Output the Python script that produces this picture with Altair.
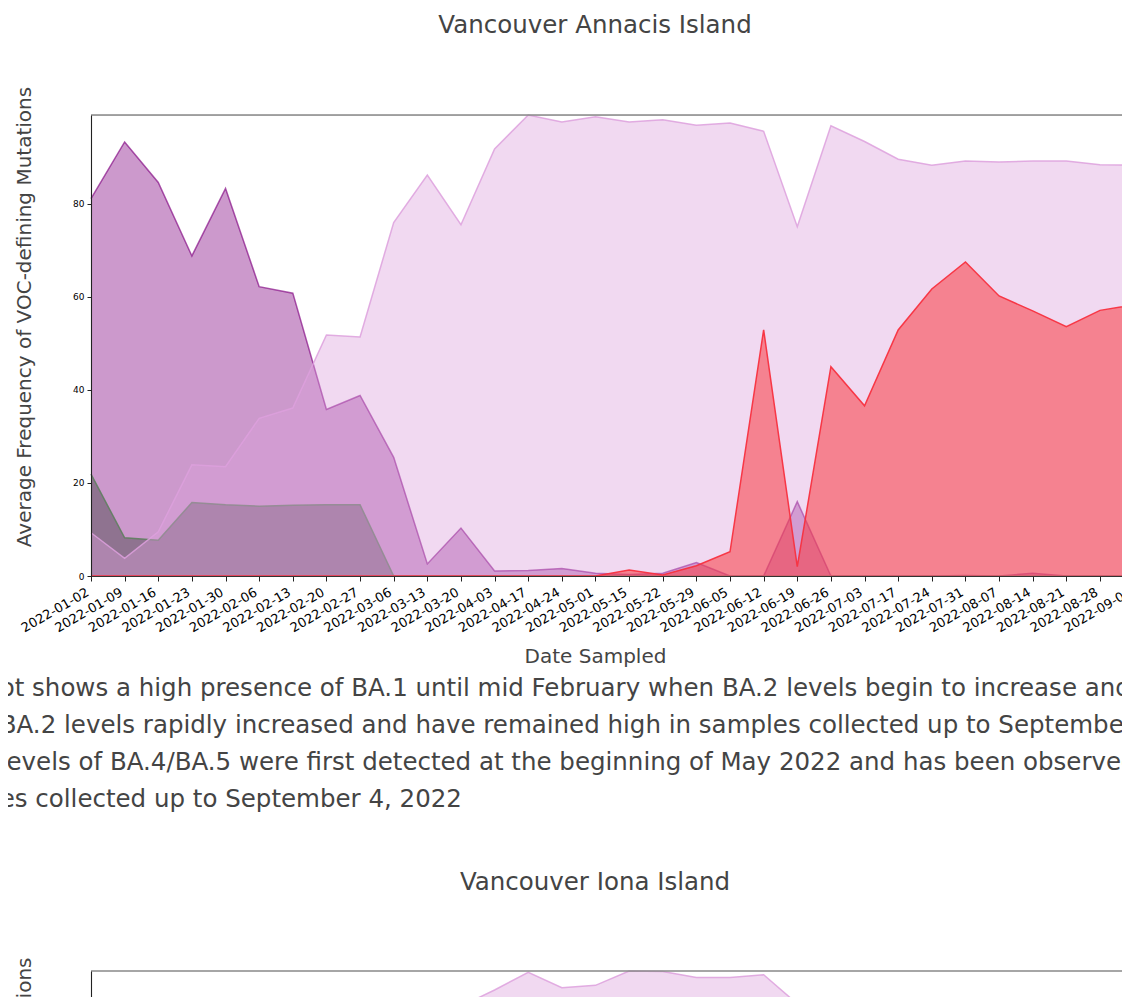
import altair as alt
import pandas as pd

# ---------------- data ----------------
dates = ["2022-01-02", "2022-01-09", "2022-01-16", "2022-01-23", "2022-01-30",
         "2022-02-06", "2022-02-13", "2022-02-20", "2022-02-27", "2022-03-06",
         "2022-03-13", "2022-03-20", "2022-04-03", "2022-04-17", "2022-04-24",
         "2022-05-01", "2022-05-15", "2022-05-22", "2022-05-29", "2022-06-05",
         "2022-06-12", "2022-06-19", "2022-06-26", "2022-07-03", "2022-07-17",
         "2022-07-24", "2022-07-31", "2022-08-07", "2022-08-14", "2022-08-21",
         "2022-08-28", "2022-09-04"]

ba1 = [81.1, 93.3, 84.6, 68.8, 83.3, 62.2, 60.8, 35.8, 38.8, 25.5,
       2.6, 10.3, 1.1, 1.2, 1.6, 0.6, 0.3, 0.6, 2.9, 0.0,
       0.0, 16.0, 0.0, 0.0, 0.0, 0.0, 0.1, 0.0, 0.6, 0.0,
       0.0, 0.0]
ba11 = [21.9, 8.2, 7.7, 15.8, 15.3, 15.0, 15.2, 15.3, 15.3, 0.0,
        0.0, 0.0, 0.0, 0.0, 0.0, 0.0, 0.0, 0.0, 0.0, 0.0,
        0.0, 0.0, 0.0, 0.0, 0.0, 0.0, 0.0, 0.0, 0.0, 0.0,
        0.0, 0.0]
ba2 = [9.3, 3.8, 9.5, 23.9, 23.5, 33.9, 36.1, 51.8, 51.4, 76.0,
       86.2, 75.5, 91.8, 99.1, 97.6, 98.7, 97.6, 98.1, 96.9, 97.4,
       95.6, 75.1, 96.8, 93.4, 89.6, 88.3, 89.2, 89.0, 89.2, 89.2,
       88.4, 88.3]
ba45 = [0.0, 0.0, 0.0, 0.0, 0.0, 0.0, 0.0, 0.0, 0.0, 0.0,
        0.0, 0.0, 0.0, 0.0, 0.0, 0.0, 1.3, 0.2, 2.2, 5.2,
        52.9, 2.0, 45.0, 36.6, 52.9, 61.7, 67.5, 60.2, 57.0, 53.6,
        57.1, 58.3]

# second site (only its top edge is visible)
iona_dates = ["2022-03-20", "2022-04-03", "2022-04-17", "2022-04-24", "2022-05-01",
              "2022-05-15", "2022-05-22", "2022-05-29", "2022-06-05", "2022-06-12",
              "2022-06-19"]
iona_ba2 = [92.0, 95.5, 99.3, 96.0, 96.5, 99.6, 99.5, 98.2, 98.2, 98.8, 92.5]

titles = ["Vancouver Annacis Island", "Vancouver Iona Island"]
x_title = "Date Sampled"
y_title = "Average Frequency of VOC-defining Mutations"
paragraph_lines = [
    "ot shows a high presence of BA.1 until mid February when BA.2 levels begin to increase and",
    "BA.2 levels rapidly increased and have remained high in samples collected up to September",
    "levels of BA.4/BA.5 were first detected at the beginning of May 2022 and has been observed",
    "es collected up to September 4, 2022",
]
y_ticks = [0, 20, 40, 60, 80]

FONT = "DejaVu Sans"
Y1_MAX = max(ba2)
Y2_MAX = max(iona_ba2)

# ---------------- layout ----------------
PAD_L, PAD_T = 83, 107
PLOT_H = 461
TOTAL_W, TOTAL_H = 1114, 989
VIEW_W = TOTAL_W - PAD_L
PAD_B = TOTAL_H - PAD_T - PLOT_H
X_SPAN = 1042.6
CH2_TOP = 856

X_SCALE = alt.Scale(type="point", domain=dates, range=[0, X_SPAN], padding=0)
Y1 = alt.Scale(domain=[0, Y1_MAX], nice=False, zero=True)
Y2 = alt.Scale(domain=[0, Y2_MAX], range=[CH2_TOP + PLOT_H, CH2_TOP], nice=False, zero=True)

long1 = pd.DataFrame({
    "date": dates * 4,
    "series": ["BA.1"] * len(dates) + ["BA.1.1"] * len(dates) + ["BA.2"] * len(dates) + ["BA.4/BA.5"] * len(dates),
    "value": ba1 + ba11 + ba2 + ba45,
})
iona_df = pd.DataFrame({"date": iona_dates, "value": iona_ba2})

x_axis = alt.Axis(
    title=x_title, labelAngle=330, labelAlign="right", labelBaseline="bottom",
    labelPadding=16, labelFontSize=13, labelColor="black", labelFont=FONT,
    labelOverlap=False, tickSize=5, tickColor="#222", tickWidth=1,
    domainColor="#333", domainWidth=1.1, grid=False, zindex=1, orient="bottom",
    titleFont=FONT, titleFontSize=20, titleColor="#444", titleFontWeight="normal",
    titleX=504, titleY=86, titleAlign="center", titleBaseline="alphabetic",
)

y_axis1 = alt.Axis(
    title=y_title, values=y_ticks, labelFontSize=9, labelColor="black", labelFont=FONT,
    labelPadding=3, tickSize=4, tickColor="#222", domainColor="#222", domainWidth=1.1,
    grid=False, zindex=1, orient="left",
    titleFont=FONT, titleFontSize=20, titleColor="#444", titleFontWeight="normal",
    titleAngle=270, titleAlign="center", titleBaseline="alphabetic",
    titleX=-61, titleY=201.5, titleLimit=2000,
)
y_axis2 = alt.Axis(
    title=y_title, values=y_ticks, labelFontSize=9, labelColor="black", labelFont=FONT,
    labelPadding=3, tickSize=4, tickColor="#222", domainColor="#222", domainWidth=1.1,
    grid=False, zindex=1, orient="left",
    titleFont=FONT, titleFontSize=20, titleColor="#444", titleFontWeight="normal",
    titleAngle=270, titleAlign="right", titleBaseline="alphabetic",
    titleX=-61, titleY=842, titleLimit=2000,
)

styles = [
    # series, fill, fill opacity, line colour, line opacity
    ("BA.1", "#800080", 0.4, "#800080", 0.65),
    ("BA.1.1", "#343a36", 0.4, "#5f805f", 0.9),
    ("BA.2", "#dda0dd", 0.4, "#dda0dd", 0.85),
    ("BA.4/BA.5", "#f83b3f", 0.55, "#f8303f", 0.95),
]

X_ENC = alt.X("date:O", scale=X_SCALE, axis=x_axis)

layers1 = []
for name, fill, fop, lcol, lop in styles:
    base = alt.Chart(long1).transform_filter(alt.datum.series == name)
    area = base.mark_area(color=fill, fillOpacity=fop, strokeWidth=0).encode(
        x=X_ENC,
        y=alt.Y("value:Q", scale=Y1, axis=y_axis1, stack=None),
    )
    line = base.mark_line(color=lcol, opacity=lop, strokeWidth=1.5).encode(
        x=X_ENC,
        y=alt.Y("value:Q", scale=Y1, axis=y_axis1, stack=None),
    )
    layers1 += [area, line]

spine1 = alt.Chart(pd.DataFrame({"date": [dates[0]], "end": [dates[-1]], "value": [Y1_MAX]})).mark_rule(
    color="#888", strokeWidth=1.3).encode(
    x=X_ENC, x2="end",
    y=alt.Y("value:Q", scale=Y1, axis=y_axis1),
)
chart1 = alt.layer(*layers1, spine1)

area2 = alt.Chart(iona_df).mark_area(color="#dda0dd", fillOpacity=0.4, strokeWidth=0).encode(
    x=X_ENC,
    y=alt.Y("value:Q", scale=Y2, axis=y_axis2, stack=None),
)
line2 = alt.Chart(iona_df).mark_line(color="#dda0dd", opacity=0.85, strokeWidth=1.5).encode(
    x=X_ENC,
    y=alt.Y("value:Q", scale=Y2, axis=y_axis2, stack=None),
)
spine2 = alt.Chart(pd.DataFrame({"date": [dates[0]], "end": [dates[-1]], "value": [Y2_MAX]})).mark_rule(
    color="#888", strokeWidth=1.3).encode(
    x=X_ENC, x2="end",
    y=alt.Y("value:Q", scale=Y2, axis=y_axis2),
)
chart2 = alt.layer(area2, line2, spine2)

TXT = dict(font=FONT, fontSize=24.5, color="#444", baseline="alphabetic")
title1 = alt.Chart(pd.DataFrame({"t": [titles[0]]})).mark_text(align="center", **TXT).encode(
    text="t:N", x=alt.value(504), y=alt.value(-82.5))
title2 = alt.Chart(pd.DataFrame({"t": [titles[1]]})).mark_text(align="center", **TXT).encode(
    text="t:N", x=alt.value(504), y=alt.value(775))
para = alt.Chart(pd.DataFrame({"t": ["\n".join(paragraph_lines)]})).mark_text(
    align="left", lineBreak="\n", lineHeight=37, **TXT).encode(
    text="t:N", x=alt.value(-91.3), y=alt.value(581))

chart = alt.layer(chart1, chart2, title1, title2, para).resolve_scale(
    y="independent"
).properties(
    width=VIEW_W, height=PLOT_H,
    autosize=alt.AutoSizeParams(type="none"),
    padding={"left": PAD_L, "top": PAD_T, "right": 0, "bottom": PAD_B},
    background="white",
).configure_view(stroke=None).configure(font=FONT)

chart.save("out.html", embed_options={"renderer": "svg", "actions": False})
